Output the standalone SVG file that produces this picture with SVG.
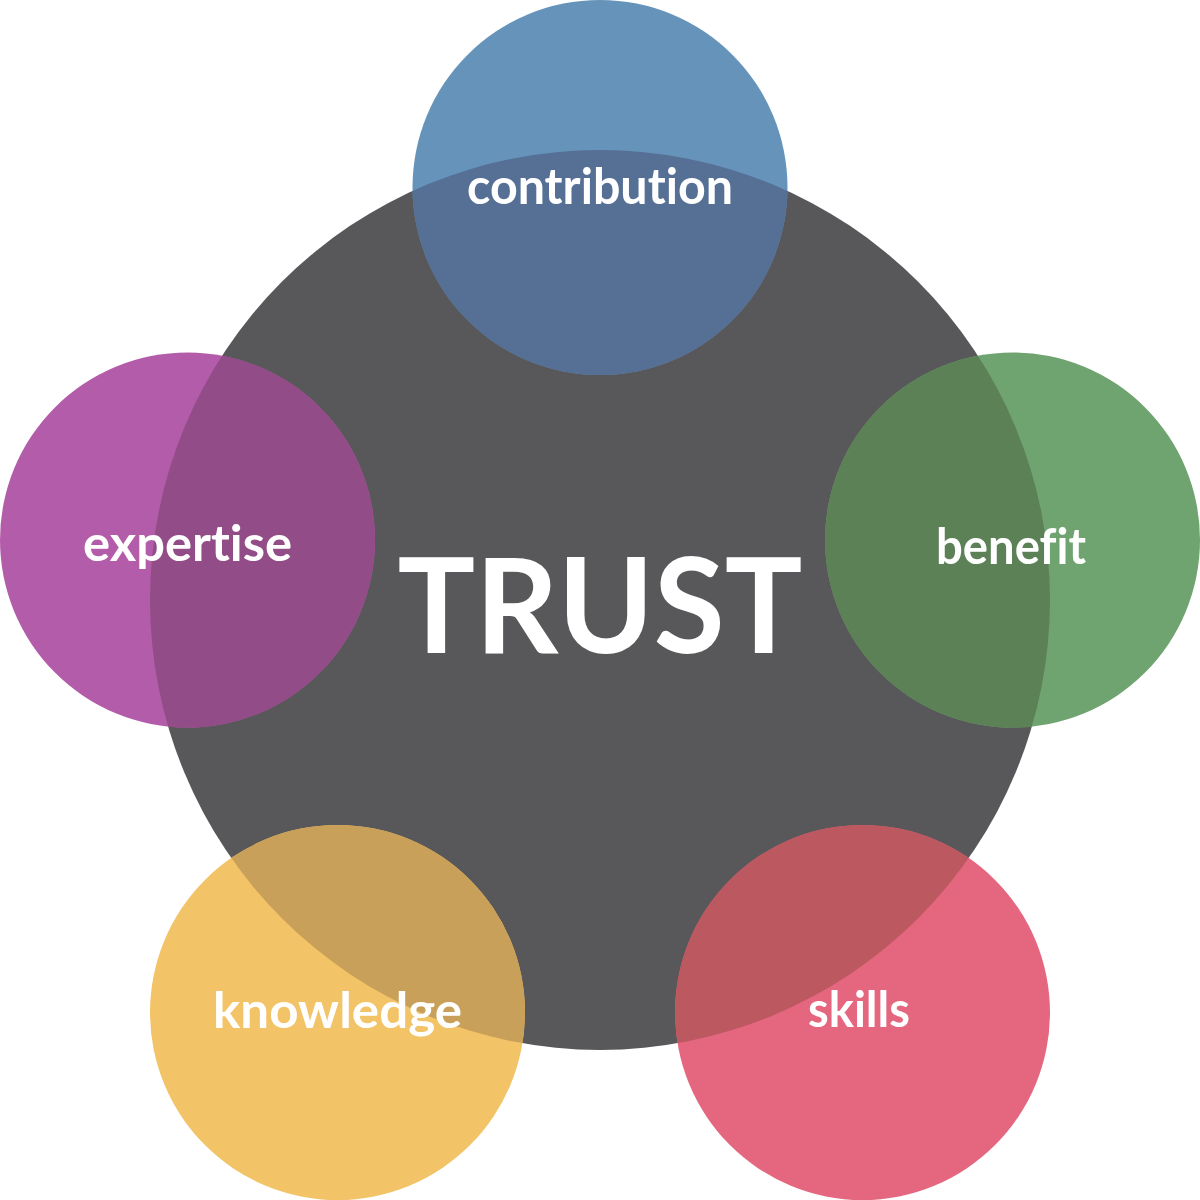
<svg xmlns="http://www.w3.org/2000/svg" width="1200" height="1200" viewBox="0 0 1200 1200">
<style>
.lbl{font-family:Lato,"Open Sans","Liberation Sans",sans-serif;font-weight:700;fill:#ffffff;text-anchor:middle;font-size:49px;font-variant-ligatures:none}
.big{font-family:Lato,"Open Sans","Liberation Sans",sans-serif;font-weight:700;fill:#ffffff;text-anchor:middle;font-size:133px;font-variant-ligatures:none}
</style>
<defs>
<clipPath id="core"><circle cx="600" cy="600" r="450"/></clipPath>
</defs>
<rect width="1200" height="1200" fill="#ffffff"/>
<g id="trust">
<circle cx="600" cy="600" r="450" fill="#58585a"/>
</g>
<g id="contribution">
<circle cx="600" cy="187.5" r="187.5" fill="#6593ba"/>
<circle cx="600" cy="187.5" r="187.5" fill="#566f94" clip-path="url(#core)"/>
<text class="lbl" x="600" y="204" textLength="266" lengthAdjust="spacingAndGlyphs">contribution</text>
</g>
<g id="benefit">
<circle cx="1012.5" cy="540" r="187.5" fill="#6fa470"/>
<circle cx="1012.5" cy="540" r="187.5" fill="#5c8156" clip-path="url(#core)"/>
<text class="lbl" x="1011" y="564" textLength="150" lengthAdjust="spacingAndGlyphs">benefit</text>
</g>
<g id="expertise">
<circle cx="187.5" cy="540" r="187.5" fill="#b35ca9"/>
<circle cx="187.5" cy="540" r="187.5" fill="#924c87" clip-path="url(#core)"/>
<text class="lbl" x="187.5" y="561" textLength="209" lengthAdjust="spacingAndGlyphs">expertise</text>
</g>
<g id="knowledge">
<circle cx="337.5" cy="1012.5" r="187.5" fill="#f2c367"/>
<circle cx="337.5" cy="1012.5" r="187.5" fill="#c9a05a" clip-path="url(#core)"/>
<text class="lbl" x="337.5" y="1028" textLength="249" lengthAdjust="spacingAndGlyphs">knowledge</text>
</g>
<g id="skills">
<circle cx="862.5" cy="1012.5" r="187.5" fill="#e4667f"/>
<circle cx="862.5" cy="1012.5" r="187.5" fill="#bc5860" clip-path="url(#core)"/>
<text class="lbl" x="859" y="1027" textLength="102" lengthAdjust="spacingAndGlyphs">skills</text>
</g>
<g id="center-label">
<text class="big" x="600" y="653" textLength="405" lengthAdjust="spacingAndGlyphs">TRUST</text>
</g>
<g id="connectors"></g>
</svg>
